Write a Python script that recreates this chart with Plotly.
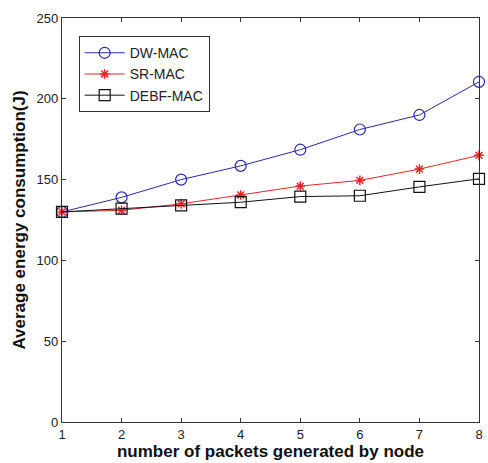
import plotly.graph_objects as go

x_vals = [1, 2, 3, 4, 5, 6, 7, 8]
dw_mac = [130, 139, 150, 158.5, 168.5, 181, 190, 210.5]
sr_mac = [130, 131, 135, 140.5, 146, 149.5, 156.5, 165]
debf_mac = [130, 132, 134, 136, 139.5, 140, 145.5, 150.5]
y_ticks = [0, 50, 100, 150, 200, 250]

fig = go.Figure()
fig.add_trace(go.Scatter(x=x_vals, y=dw_mac, name="DW-MAC", mode="lines+markers", cliponaxis=False,
                         line=dict(color="#2a2aa8", width=1),
                         marker=dict(symbol="circle-open", size=11, color="#2a2aa8", line=dict(width=1.2))))
fig.add_trace(go.Scatter(x=x_vals, y=sr_mac, name="SR-MAC", mode="lines+markers", cliponaxis=False,
                         line=dict(color="#e02a2a", width=1),
                         marker=dict(symbol="asterisk-open", size=8, color="#e02a2a", line=dict(width=1.5, color="#e02a2a"))))
fig.add_trace(go.Scatter(x=x_vals, y=debf_mac, name="DEBF-MAC", mode="lines+markers", cliponaxis=False,
                         line=dict(color="#111111", width=1),
                         marker=dict(symbol="square-open", size=11, color="#111111", line=dict(width=1.2))))

axis_common = dict(showline=True, linecolor="#333333", linewidth=1.2, mirror="ticks",
                   ticks="inside", ticklen=4, tickcolor="#333333", showgrid=False, zeroline=False,
                   tickfont=dict(family="Liberation Sans, Arial", size=13, color="#222222"))

title_font = dict(family="Liberation Sans, Arial", size=17, color="#111111", weight="bold")

fig.update_layout(
    width=488, height=463,
    paper_bgcolor="white", plot_bgcolor="white",
    margin=dict(l=62, r=5, t=18, b=41),
    xaxis=dict(range=[1, 8], tickvals=x_vals,
               title=dict(text="number of packets generated by node", font=title_font, standoff=1),
               **axis_common),
    yaxis=dict(range=[0, 250], tickvals=y_ticks,
               title=dict(text="Average energy consumption(J)", font=title_font, standoff=6),
               **axis_common),
    legend=dict(x=0.04, y=0.955, xanchor="left", yanchor="top", bgcolor="white",
                bordercolor="#333333", borderwidth=1,
                font=dict(family="Liberation Sans, Arial", size=14, color="#222222"),
                tracegroupgap=0, itemwidth=40),
    showlegend=True,
)

fig.write_html("out.html", config={"displayModeBar": False},
               post_script="document.body.style.margin='0';document.body.style.overflow='hidden';")
